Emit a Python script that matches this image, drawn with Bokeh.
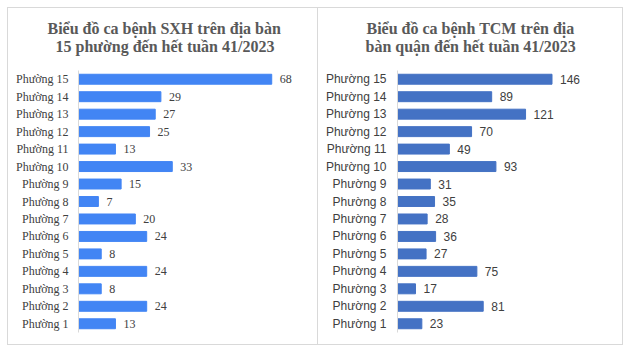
from bokeh.plotting import figure
from bokeh.models import ColumnDataSource, FactorRange, Range1d, Spacer, Title
from bokeh.layouts import row, column
from bokeh.embed import file_html
from bokeh.resources import INLINE
from bokeh.core.properties import value

# ---- data ----
wards = ["Phường %d" % i for i in range(1, 16)]
sxh_cases = [13, 24, 8, 24, 8, 24, 20, 7, 15, 33, 13, 25, 27, 29, 68]
tcm_cases = [23, 81, 17, 75, 27, 36, 28, 35, 31, 93, 49, 70, 121, 89, 146]
title_sxh = ["Biểu đồ ca bệnh SXH trên địa bàn", "15 phường đến hết tuần 41/2023"]
title_tcm = ["Biểu đồ ca bệnh TCM trên địa", "bàn quận đến hết tuần 41/2023"]


def make_title(text, offset, standoff):
    return Title(text=text, align="left", offset=offset, standoff=standoff,
                 text_font="Liberation Serif", text_font_style="bold",
                 text_font_size="16px", text_color="#595959")


def make_panel(values, titles, offsets, color, label_font, x_end, width, left,
               standoff, css):
    src = ColumnDataSource(dict(ward=wards, val=values,
                                lab=[str(v) for v in values]))
    p = figure(width=width, height=338, output_backend="svg", toolbar_location=None,
               y_range=FactorRange(*wards, range_padding=0),
               x_range=Range1d(0, x_end), x_axis_location=None,
               min_border_left=left, min_border_right=8,
               min_border_top=62, min_border_bottom=14)
    p.styles = css
    p.outline_line_color = None
    p.grid.visible = False
    # gap between the title block and the plot frame
    p.add_layout(Title(text=" ", text_font_size="1px", standoff=13), "above")
    p.add_layout(make_title(titles[1], offsets[1], 0), "above")
    p.add_layout(make_title(titles[0], offsets[0], -2), "above")
    p.hbar(y="ward", right="val", height=0.57, source=src, color=color)
    p.text(x="val", y="ward", text="lab", source=src, x_offset=8,
           text_align="left", text_baseline="middle",
           text_font=value(label_font), text_font_size="12px", text_color="#404040")
    ax = p.yaxis[0]
    ax.axis_line_color = "#d9d9d9"
    ax.major_tick_line_color = None
    ax.minor_tick_line_color = None
    ax.major_tick_out = 0
    ax.major_tick_in = 0
    ax.major_label_standoff = standoff
    ax.major_label_text_font = label_font
    ax.major_label_text_font_size = "12px"
    ax.major_label_text_color = "#404040"
    return p


p1 = make_panel(sxh_cases, title_sxh, (-31, -23), "#4285F4", "Liberation Serif", 82,
                311, 70, 10, {"border": "1px solid #d9d9d9"})
p2 = make_panel(tcm_cases, title_tcm, (-31, -32), "#4472C4", "Liberation Sans", 206,
                305, 79, 11,
                {"border-top": "1px solid #d9d9d9", "border-right": "1px solid #d9d9d9",
                 "border-bottom": "1px solid #d9d9d9"})

layout = column(Spacer(height=7), row(Spacer(width=7), p1, p2))
open("out.html", "w").write(file_html(layout, INLINE))
